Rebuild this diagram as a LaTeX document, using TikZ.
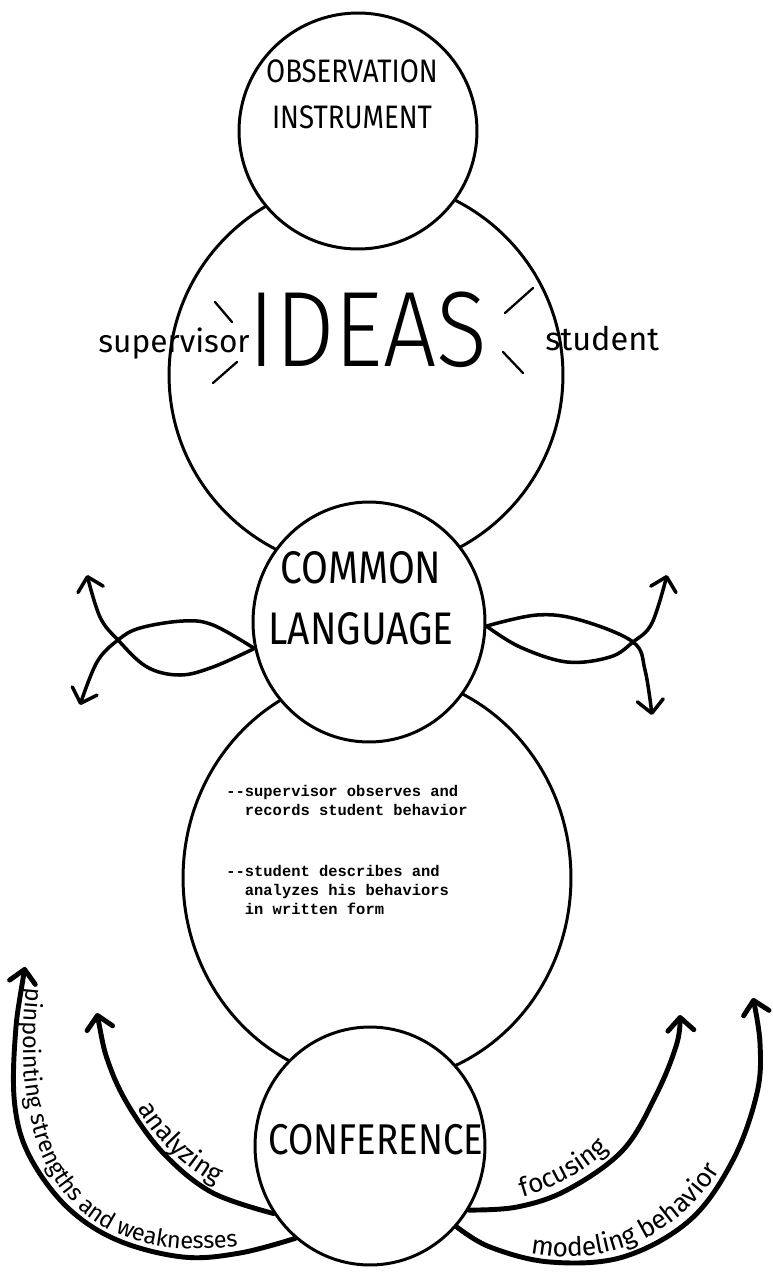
\documentclass[tikz,border=0pt]{standalone}
\usepackage{fontspec}
\usetikzlibrary{shapes.geometric}
\usetikzlibrary{arrows.meta}
\usetikzlibrary{decorations.text}
\newfontfamily\handfont{Fira Sans}[FakeStretch=0.85]
\newfontfamily\lowfont{Fira Sans}
\newfontfamily\ideasfont{Fira Sans Light}[FakeStretch=0.88]
\newfontfamily\typefont{Liberation Mono}
\tikzset{bubble/.style={ellipse, draw, line width=1.7pt, fill=white, inner sep=0pt}}
\tikzset{caps/.style={inner sep=0pt, align=center}}
\tikzset{ray/.style={line width=1.3pt, line cap=round}}
\tikzset{twist/.style={line width=2pt, line cap=round}}
\tikzset{sweep/.style={line width=2.8pt, line cap=round}}
\tikzset{vtip/.tip={Straight Barb[length=2.6mm, width=5.2mm, round]}}
\tikzset{along/.style n args={3}{decorate, decoration={text along path,
   raise=2.2pt, text align={left indent=#1},
   text={|\lowfont\fontsize{#2}{#2}\selectfont|#3}}}}

\begin{document}
\begin{tikzpicture}[x=0.02cm, y=-0.02cm]

    \fill[white] (0,0) rectangle (773,1281);
    \useasboundingbox (0,0) rectangle (773,1281);

    % big circles first, the small ones are filled and cover them
    \node[bubble, minimum width=7.88cm, minimum height=7.84cm] (ideas)  at (366,375) {};
    \node[bubble, minimum width=7.76cm, minimum height=8.2cm]  (record) at (377,878) {};
    \node[bubble, minimum width=4.76cm, minimum height=4.72cm] (instrument) at (358,131) {};
    \node[bubble, minimum width=4.64cm, minimum height=4.8cm]  (common) at (369,622) {};
    \node[bubble, minimum width=4.6cm,  minimum height=4.76cm] (conf)   at (370,1146) {};

    \node[caps, font=\handfont\fontsize{18.5}{26}\selectfont] (instrumentText) at (352,94) {OBSERVATION\\INSTRUMENT};
    \node[caps, font=\ideasfont\fontsize{61}{61}\selectfont] (ideasText) at (368,330) {IDEAS};
    \node[caps, font=\handfont\fontsize{26}{34.6}\selectfont] (commonText) at (361,598) {COMMON\\LANGUAGE};
    \node[caps, font=\handfont\fontsize{24.5}{24.5}\selectfont] (confText) at (376,1140) {CONFERENCE};

    \node[caps, font=\lowfont\fontsize{18}{18}\selectfont, anchor=base west] (supervisor) at (98,352) {supervisor};
    \node[caps, font=\lowfont\fontsize{18.5}{18}\selectfont, anchor=base west] (student) at (545,350) {student};

    \draw[ray] (215,302) -- (232,322);
    \draw[ray] (237,362) -- (213,383);
    \draw[ray] (533,288) -- (505,313);
    \draw[ray] (503,352) -- (523,373);

    \node[caps, align=left, anchor=north west, font=\typefont\bfseries\fontsize{8.8}{10.8}\selectfont] (notes) at (226,785)
      {--supervisor observes and\\\phantom{--}records student behavior\\[24pt]
       --student describes and\\\phantom{--}analyzes his behaviors\\\phantom{--}in written form};

    % crossing arrows on both sides of the common language
    \coordinate (leftUp)    at (87,575);
    \coordinate (leftDown)  at (80,705);
    \coordinate (rightUp)   at (667,575);
    \coordinate (rightDown) at (652,715);

    \draw[twist, -vtip] plot[smooth, tension=.6] coordinates
      {(common.193) (213,625) (183,621) (140,628) (118,640) (97,662) (leftDown)};
    \draw[twist, -vtip] plot[smooth, tension=.6] coordinates
      {(common.193) (213,667) (180,675) (147,667) (118,640) (100,617) (leftUp)};
    \draw[twist, -vtip] plot[smooth, tension=.6] coordinates
      {(common.358) (537,615) (580,620) (633,642) (645,670) (rightDown)};
    \draw[twist, -vtip] plot[smooth, tension=.6] coordinates
      {(common.358) (520,647) (567,662) (610,657) (633,642) (652,623) (rightUp)};

    % the four sweeps out of the conference
    \coordinate (pinTip) at (25,967);
    \coordinate (anTip)  at (97,1013);
    \coordinate (focTip) at (680,1015);
    \coordinate (modTip) at (753,998);

    \draw[sweep, vtip-] plot[smooth, tension=.6] coordinates
      {(pinTip) (15,1040) (15,1107) (30,1157) (67,1207) (117,1240) (183,1257) (240,1253) (conf.231)};
    \draw[sweep, vtip-] plot[smooth, tension=.6] coordinates
      {(anTip) (110,1067) (133,1113) (167,1157) (213,1193) (conf.215)};
    \draw[sweep, -vtip] plot[smooth, tension=.6] coordinates
      {(conf.327) (517,1207) (567,1190) (623,1150) (657,1093) (677,1043) (focTip)};
    \draw[sweep, -vtip] plot[smooth, tension=.6] coordinates
      {(conf.317) (490,1247) (550,1262) (623,1257) (690,1220) (733,1160) (757,1093) (760,1043) (modTip)};

    % labels written along the sweeps
    \path[along={0.4cm}{13.4}{pinpointing strengths and weaknesses}]
      (pinTip) .. controls (-6,1192) and (91,1290) .. (293,1240);
    \path[along={2.1cm}{15}{analyzing}]
      (anTip) .. controls (123,1120) and (168,1179) .. (273,1212);
    \path[along={1.1cm}{15}{focusing}]
      (470,1210) .. controls (584,1203) and (668,1125) .. (focTip);
    \path[along={1.5cm}{15}{modeling behavior}]
      (460,1230) .. controls (622,1322) and (783,1194) .. (modTip);

\end{tikzpicture}
\end{document}
